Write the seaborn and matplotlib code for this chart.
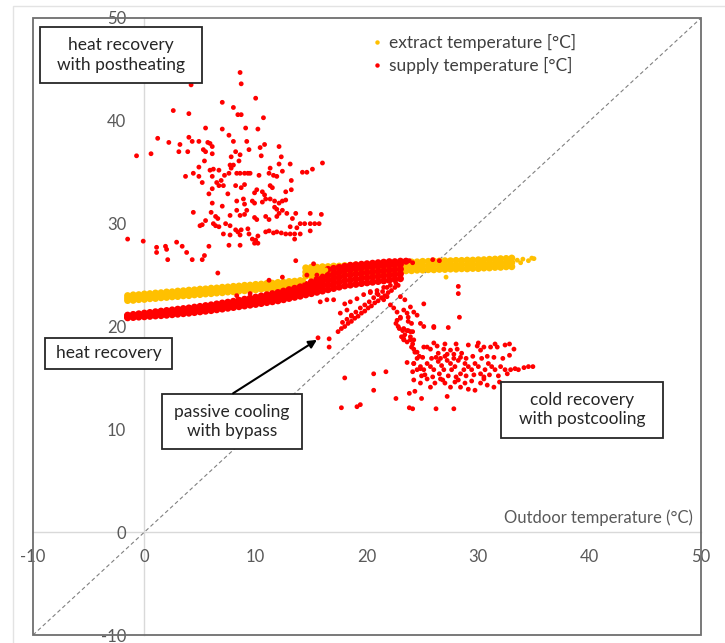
import matplotlib
matplotlib.use("Agg")
import matplotlib.pyplot as plt
from matplotlib.patches import Rectangle
from matplotlib.lines import Line2D
import seaborn as sns
import pandas as pd

# ---------------- data ----------------
series_names = ["extract temperature [°C]", "supply temperature [°C]"]
colors = {"extract temperature [°C]": "#FFC000", "supply temperature [°C]": "#FF0000"}
ticks = [-10, 0, 10, 20, 30, 40, 50]

# extract temperature, dense band (winter/spring part)
ext_lo_x = [-1.5, -1, -0.5, 0, 0.5, 1, 1.5, 2, 2.5, 3, 3.5, 4, 4.5, 5, 5.5, 6, 6.5, 7, 7.5, 8,
            8.5, 9, 9.5, 10, 10.5, 11, 11.5, 12, 12.5, 13, 13.5, 14]
ext_lo_r1 = [22.53, 22.55, 22.62, 22.64, 22.71, 22.73, 22.80, 22.83, 22.89, 22.92, 22.99, 23.01, 23.08, 23.11,
             23.17, 23.20, 23.26, 23.29, 23.36, 23.38, 23.45, 23.48, 23.54, 23.57, 23.64, 23.66, 23.73, 23.76,
             23.82, 23.85, 23.92, 23.94]
ext_lo_r2 = [22.76, 22.81, 22.85, 22.90, 22.95, 22.99, 23.04, 23.09, 23.13, 23.18, 23.23, 23.27, 23.32, 23.37,
             23.41, 23.46, 23.50, 23.55, 23.60, 23.64, 23.69, 23.74, 23.78, 23.83, 23.88, 23.92, 23.97, 24.02,
             24.06, 24.11, 24.16, 24.20]
ext_lo_r3 = [23.00, 23.07, 23.09, 23.16, 23.19, 23.25, 23.28, 23.35, 23.37, 23.44, 23.47, 23.53, 23.56, 23.63,
             23.65, 23.72, 23.74, 23.81, 23.84, 23.90, 23.93, 24.00, 24.02, 24.09, 24.12, 24.18, 24.21, 24.28,
             24.30, 24.37, 24.40, 24.46]

# extract temperature, dense band (summer part)
ext_hi_x = [14.5, 15, 15.5, 16, 16.5, 17, 17.5, 18, 18.5, 19, 19.5, 20, 20.5, 21, 21.5, 22, 22.5, 23, 23.5,
            24, 24.5, 25, 25.5, 26, 26.5, 27, 27.5, 28, 28.5, 29, 29.5, 30, 30.5, 31, 31.5, 32, 32.5, 33]
ext_hi_r1 = [24.92, 24.91, 24.97, 24.96, 25.02, 25.03, 25.08, 25.07, 25.13, 25.14, 25.18, 25.19, 25.24, 25.25,
             25.30, 25.31, 25.36, 25.37, 25.42, 25.43, 25.48, 25.49, 25.53, 25.52, 25.56, 25.55, 25.59, 25.58,
             25.62, 25.61, 25.65, 25.64, 25.69, 25.70, 25.75, 25.76, 25.81, 25.82]
ext_hi_r2 = [25.30, 25.33, 25.35, 25.38, 25.41, 25.44, 25.46, 25.49, 25.52, 25.55, 25.57, 25.60, 25.63, 25.66,
             25.69, 25.72, 25.75, 25.78, 25.81, 25.84, 25.87, 25.90, 25.92, 25.93, 25.95, 25.96, 25.98, 25.99,
             26.01, 26.02, 26.04, 26.05, 26.08, 26.11, 26.14, 26.17, 26.20, 26.23]
ext_hi_r3 = [25.70, 25.76, 25.76, 25.81, 25.82, 25.87, 25.87, 25.92, 25.93, 25.98, 25.98, 26.03, 26.04, 26.09,
             26.10, 26.15, 26.16, 26.21, 26.22, 26.27, 26.28, 26.33, 26.33, 26.36, 26.36, 26.39, 26.39, 26.42,
             26.42, 26.45, 26.45, 26.48, 26.49, 26.53, 26.55, 26.59, 26.61, 26.65]

# extract temperature, loose points
ext_pts_x = [33.5, 34.0, 34.5, 35.0, 33.8, 34.8, 27.1, 14.3, 14.8, 15.6, 16.3]
ext_pts_y = [26.45, 26.55, 26.40, 26.60, 26.20, 26.65, 24.80, 24.50, 25.60, 25.10, 25.50]

# supply temperature, dense band (heat recovery)
sup_band_x = [-1.5, -1, -0.5, 0, 0.5, 1, 1.5, 2, 2.5, 3, 3.5, 4, 4.5, 5, 5.5, 6, 6.5, 7, 7.5, 8, 8.5, 9,
              9.5, 10, 10.5, 11, 11.5, 12, 12.5, 13, 13.5, 14, 14.5, 15, 15.5, 16, 16.5, 17, 17.5, 18, 18.5,
              19, 19.5, 20, 20.5, 21, 21.5, 22, 22.5, 23]
sup_band_r1 = [20.85, 20.88, 20.92, 20.95, 20.99, 21.03, 21.06, 21.10, 21.15, 21.20, 21.25, 21.30, 21.36, 21.43,
               21.49, 21.55, 21.63, 21.70, 21.78, 21.85, 21.93, 22.00, 22.08, 22.15, 22.24, 22.33, 22.41, 22.50,
               22.61, 22.73, 22.84, 22.95, 23.08, 23.20, 23.33, 23.45, 23.58, 23.70, 23.83, 23.95, 24.03, 24.10,
               24.18, 24.25, 24.31, 24.38, 24.44, 24.50, 24.58, 24.65]
sup_band_r2 = [20.93, 20.98, 21.02, 21.07, 21.11, 21.16, 21.20, 21.25, 21.30, 21.36, 21.41, 21.47, 21.53, 21.60,
               21.67, 21.73, 21.82, 21.89, 21.97, 22.05, 22.14, 22.22, 22.30, 22.38, 22.48, 22.58, 22.67, 22.77,
               22.89, 23.01, 23.13, 23.25, 23.42, 23.58, 23.74, 23.90, 24.04, 24.18, 24.32, 24.45, 24.53, 24.60,
               24.68, 24.75, 24.81, 24.87, 24.93, 24.98, 25.05, 25.12]
sup_band_r3 = [21.02, 21.07, 21.13, 21.18, 21.24, 21.30, 21.35, 21.40, 21.46, 21.52, 21.58, 21.63, 21.71, 21.78,
               21.85, 21.92, 22.00, 22.09, 22.17, 22.25, 22.34, 22.43, 22.53, 22.62, 22.72, 22.83, 22.93, 23.03,
               23.16, 23.30, 23.42, 23.55, 23.75, 23.95, 24.15, 24.35, 24.50, 24.65, 24.80, 24.95, 25.03, 25.10,
               25.18, 25.25, 25.30, 25.36, 25.41, 25.47, 25.53, 25.58]
sup_band_r4 = [21.10, 21.17, 21.23, 21.30, 21.36, 21.43, 21.49, 21.55, 21.61, 21.68, 21.74, 21.80, 21.88, 21.95,
               22.03, 22.10, 22.19, 22.28, 22.36, 22.45, 22.55, 22.65, 22.75, 22.85, 22.96, 23.08, 23.19, 23.30,
               23.44, 23.58, 23.71, 23.85, 24.09, 24.33, 24.56, 24.80, 24.96, 25.13, 25.29, 25.45, 25.53, 25.60,
               25.68, 25.75, 25.80, 25.85, 25.90, 25.95, 26.00, 26.05]

# supply temperature, top streak over the extract band
sup_top_x = [16.5, 17, 17.5, 18, 18.5, 19, 19.5, 20, 20.5, 21, 21.5, 22, 22.5, 23, 23.5]
sup_top_y = [25.55, 25.65, 25.75, 25.85, 25.95, 26.00, 26.05, 26.10, 26.15, 26.20, 26.25, 26.30, 26.30, 26.35, 26.35]

# supply temperature, bypass lines (passive cooling)
sup_fan_x = [17.4, 17.7, 18.0, 18.3, 18.6, 18.9, 19.2, 19.5, 19.8, 20.1, 20.4, 20.7, 21.0, 21.3, 21.6, 21.9,
             22.2, 22.5, 22.8, 17.8, 18.2, 18.6, 19.0, 19.4, 19.8, 20.2, 20.6, 21.0, 21.4, 21.8,
             15.8, 16.4, 17.0, 18.0, 18.5, 19.1, 19.7, 20.3, 20.9, 21.5, 22.1, 22.6,
             17.6, 18.2, 18.6, 15.6, 16.6, 16.6]
sup_fan_y = [19.5, 19.8, 20.0, 20.3, 20.5, 20.8, 21.0, 21.3, 21.5, 21.8, 22.0, 22.3, 22.5, 22.8, 23.0, 23.3,
             23.5, 23.8, 24.0, 20.4, 20.7, 21.1, 21.4, 21.8, 22.1, 22.4, 22.8, 23.1, 23.4, 23.8,
             22.4, 22.6, 22.6, 22.2, 22.4, 22.7, 23.1, 23.3, 23.5, 23.8, 24.0, 24.2,
             21.3, 21.6, 21.0, 18.9, 18.8, 18.0]

# supply temperature, heat recovery with postheating (upper cloud)
heat_x = [8.6, 8.7, 4.2, 7.0, 10.0, 8.0, 2.6, 4.0, 8.4, 8.7, 10.7, 5.5, 7.0, 9.1, 10.2, 7.6, 1.2, 4.0, 4.3, 4.9,
          2.2, 3.2, 5.7, 5.9, 6.1, 8.0, 9.2, 10.8, 10.4, 12.1, 9.4, 5.3, 5.5, 3.1, 3.9, 8.2, 8.6, 6.1, 0.6, -0.7,
          10.5, 12.3, 7.8, 5.4, 8.5, 7.7, 8.0, 12.1, 13.1, 15.1, 16.0, 4.9, 6.2,
          3.7, 4.4, 4.9, 5.9, 6.1, 6.7, 7.2, 7.6, 7.8, 8.3, 8.6, 9.0, 9.3, 9.5, 10.3, 11.2, 11.6, 11.9, 12.4,
          11.3, 14.2, 14.6,
          5.2, 6.5, 6.9, 6.7, 7.1, 5.8, 6.1, 7.5, 8.2, 8.7, 9.0, 9.9, 10.1, 10.6, 10.8, 11.3, 11.5, 12.7, 13.2, 13.2,
          6.1, 7.0, 8.3, 8.9, 9.0, 9.7, 9.9, 10.6, 10.9, 11.3, 11.7, 12.1, 12.4, 12.7, 11.7, 11.9, 12.1, 12.4, 12.8,
          4.4, 6.0, 6.4, 6.6, 7.7, 8.3, 8.6, 9.0, 9.2, 9.9, 10.1, 10.9, 11.2, 11.9, 13.3, 13.6, 14.9, 15.9,
          5.0, 5.2, 5.5, 6.2, 6.4, 6.7, 7.3, 7.7, 8.2, 8.4, 8.7, 9.3,
          14.0, 14.4, 14.9, 15.3, 15.7, 13.7, 13.1, 14.9,
          10.9, 11.2, 11.6, 11.9, 12.3, 12.7, 13.1, 13.5, 14.0,
          7.1, 7.7, 8.6, 9.4, 9.7, 10.0, 10.2, 9.9, 10.2, 7.6, 8.6, 13.5,
          -1.5, -0.1, 1.1, 1.9, 2.0, 1.1, 2.1, 2.9, 3.4, 3.8, 4.3, 5.2, 5.4, 5.8, 6.6, 13.6,
          8.3, 9.5, 11.2, 12.4, 15.2, 14.6, 15.5]
heat_y = [44.7, 43.6, 43.5, 41.8, 42.2, 41.3, 41.0, 40.7, 40.6, 40.6, 40.3, 39.3, 39.2, 39.3, 39.2, 38.6, 38.3, 38.4,
          38.0, 38.0, 37.9, 37.7, 37.9, 37.8, 37.5, 38.0, 38.0, 37.7, 37.4, 37.5, 37.2, 37.2, 37.0, 37.0, 37.0, 37.0,
          36.7, 36.8, 36.8, 36.6, 36.6, 36.5, 36.5, 36.1, 36.1, 35.7, 35.7, 35.8, 35.8, 35.3, 35.9, 35.5, 35.3,
          34.6, 34.9, 34.6, 35.2, 34.6, 35.2, 34.7, 34.9, 35.4, 34.9, 34.9, 34.9, 34.9, 34.9, 34.7, 34.9, 34.7, 34.6,
          35.1, 35.4, 35.0, 35.0,
          34.0, 34.0, 34.2, 33.7, 33.7, 32.9, 33.4, 32.9, 33.7, 33.5, 33.8, 33.0, 33.3, 33.1, 32.8, 33.7, 33.5, 33.1,
          33.3, 34.2,
          32.0, 31.7, 32.2, 32.4, 31.9, 32.2, 32.0, 32.1, 32.4, 32.4, 32.2, 32.0, 32.2, 32.3, 31.6, 31.4, 31.0, 31.3,
          31.0,
          31.1, 31.1, 30.7, 30.5, 30.8, 31.3, 30.8, 30.9, 31.3, 30.6, 30.4, 30.7, 30.4, 30.7, 30.5, 31.0, 31.0, 30.9,
          29.8, 29.9, 30.3, 30.0, 29.8, 29.7, 30.0, 29.8, 29.4, 29.2, 29.4, 29.5,
          30.0, 30.0, 30.0, 30.0, 30.0, 29.6, 29.7, 29.3,
          29.2, 29.3, 29.1, 29.2, 29.1, 29.0, 29.0, 29.0, 29.0,
          29.0, 28.9, 28.9, 29.0, 28.5, 28.4, 28.8, 28.1, 28.1, 27.9, 27.9, 28.5,
          28.5, 28.3, 27.7, 27.8, 27.5, 27.2, 26.5, 28.2, 27.8, 27.2, 26.5, 26.5, 26.9, 27.8, 25.2, 26.4,
          23.0, 23.2, 24.5, 24.8, 26.1, 25.0, 25.0]

# supply temperature, cold recovery with postcooling (lower right cloud)
cold_x = [22.6, 22.9, 23.2, 23.4, 23.3, 23.7, 24.1, 25.1, 26.0, 27.3, 23.9, 24.1, 24.2, 24.5, 24.7,
          25.4, 25.7, 26.3, 26.4, 26.9, 27.2, 27.5, 27.8, 28.1, 28.5, 29.1, 29.9, 30.2, 30.5, 31.1, 31.7, 32.4,
          23.6, 24.2, 24.1, 24.5, 24.8, 25.1, 24.9, 25.4, 25.7, 26.0, 26.4, 26.7, 26.9, 27.2, 27.5, 27.6, 27.9,
          28.2, 28.4, 28.7, 28.8, 29.1, 29.4, 29.7, 30.0, 30.2, 30.6, 30.9, 31.2, 31.5, 32.0, 32.4, 32.9, 33.3,
          33.6, 34.1, 34.5, 34.9,
          24.2, 24.8, 25.4, 25.7, 26.1, 26.6, 27.0, 27.5, 27.9, 28.4, 28.8, 29.1, 29.7, 30.2, 30.8, 31.4,
          21.7, 22.6, 23.8, 24.3, 24.9, 27.2, 24.1, 26.2, 27.8, 20.6, 20.6, 19.4, 18.0, 17.7, 19.1, 23.8,
          25.0, 25.8, 26.2, 26.6, 27.0, 27.8, 28.4, 28.9, 29.5, 30.3, 30.8, 31.4, 32.2, 32.8,
          25.2, 25.9, 26.5, 27.3, 28.0, 28.9, 29.6, 30.5, 31.0, 31.8, 32.6, 26.8, 28.2, 29.4, 30.5, 31.9,
          26.0, 27.0, 28.0, 30.0, 31.5, 32.8, 33.2,
          20.3, 20.9, 21.5, 21.8, 22.1, 22.4, 22.7, 22.7, 23.0, 23.3, 23.6, 23.7, 24.0, 23.3, 23.6, 23.9,
          23.1, 23.3, 24.2, 24.0, 24.3, 24.5, 24.2, 24.8,
          23.0, 23.4, 23.9, 24.2, 24.5, 23.7, 25.1, 24.8, 23.0, 22.8, 23.9, 23.6, 26.0, 25.1,
          28.2, 28.2, 28.3, 25.9, 26.5, 23.8, 24.1]
cold_y = [20.3, 19.8, 19.6, 19.2, 18.8, 19.6, 19.5, 20.0, 19.9, 19.9, 18.7, 18.3, 17.8, 17.5, 17.1,
          18.0, 17.8, 18.1, 17.4, 17.8, 17.3, 17.7, 17.3, 17.8, 17.4, 18.2, 18.1, 17.7, 18.0, 18.0, 18.0, 18.2,
          16.5, 16.4, 15.6, 15.8, 16.1, 15.8, 15.2, 16.4, 16.1, 15.8, 16.6, 16.2, 15.8, 16.7, 16.4, 15.8, 16.1,
          16.7, 15.4, 15.8, 16.4, 16.1, 15.8, 16.4, 16.1, 15.4, 15.8, 16.4, 16.1, 15.8, 16.1, 15.8, 15.8, 15.9,
          15.8, 16.0, 16.1, 16.1,
          14.8, 14.5, 14.9, 14.1, 14.5, 14.9, 14.5, 14.1, 14.6, 14.1, 14.5, 13.9, 13.8, 14.5, 14.3, 14.1,
          15.6, 13.0, 13.5, 13.7, 13.0, 13.2, 12.0, 12.0, 12.0, 15.4, 13.8, 12.4, 15.0, 12.1, 12.2, 12.1,
          17.0, 16.9, 17.0, 16.9, 17.1, 16.9, 17.0, 16.9, 17.1, 16.9, 17.1, 17.0, 16.9, 17.2,
          15.3, 15.1, 15.4, 15.2, 15.1, 15.2, 15.3, 15.1, 15.3, 15.2, 15.4, 14.8, 14.8, 14.7, 14.9, 14.6,
          18.4, 18.3, 18.3, 18.4, 18.3, 18.3, 17.8,
          23.4, 23.2, 22.6, 22.9, 22.1, 21.8, 21.4, 20.6, 20.8, 21.6, 21.3, 20.5, 20.3, 19.8, 19.6, 19.5,
          19.0, 18.7, 18.7, 18.0, 17.5, 16.9, 16.4, 15.9,
          22.9, 22.6, 21.9, 21.4, 21.1, 20.9, 22.2, 20.3, 20.9, 20.0, 19.0, 18.5, 20.0, 18.0,
          23.9, 23.2, 20.9, 26.5, 26.4, 26.4, 26.2]

# ---------------- tables ----------------
EXT, SUP = series_names
band_df = pd.concat([
    pd.DataFrame({"x": ext_lo_x * 3, "y": ext_lo_r1 + ext_lo_r2 + ext_lo_r3, "series": EXT}),
    pd.DataFrame({"x": ext_hi_x * 3, "y": ext_hi_r1 + ext_hi_r2 + ext_hi_r3, "series": EXT}),
    pd.DataFrame({"x": sup_band_x * 4, "y": sup_band_r1 + sup_band_r2 + sup_band_r3 + sup_band_r4, "series": SUP}),
    pd.DataFrame({"x": sup_top_x, "y": sup_top_y, "series": SUP}),
], ignore_index=True)
pts_df = pd.concat([
    pd.DataFrame({"x": ext_pts_x, "y": ext_pts_y, "series": EXT}),
    pd.DataFrame({"x": sup_fan_x, "y": sup_fan_y, "series": SUP}),
    pd.DataFrame({"x": heat_x, "y": heat_y, "series": SUP}),
    pd.DataFrame({"x": cold_x, "y": cold_y, "series": SUP}),
], ignore_index=True)

# ---------------- figure ----------------
sns.set_theme(style="white")
plt.rcParams["font.family"] = ["Lato", "DejaVu Sans"]

W, H = 725, 643
fig = plt.figure(figsize=(W / 100, H / 100), dpi=100)
ax = fig.add_axes([33 / W, 1 - 635 / H, (701 - 33) / W, (635 - 18) / H])
ax.set_xlim(-10, 50)
ax.set_ylim(-10, 50)

# faint outer frame of the picture (top and left edges visible)
fig.patches.append(Rectangle((13 / W, -0.01), 1.0, 1 - 6 / H + 0.01, transform=fig.transFigure,
                             fill=False, ec="#e3e3e3", lw=1.0))

ax.axline((0, 0), slope=1, color="#808080", lw=0.8, ls=(0, (3.5, 2.5)), zorder=1)

sns.scatterplot(data=band_df, x="x", y="y", hue="series", palette=colors, s=26, linewidth=0,
                legend=False, ax=ax, zorder=3)
sns.scatterplot(data=pts_df, x="x", y="y", hue="series", palette=colors, s=12, linewidth=0,
                legend=False, ax=ax, zorder=4)

# axes through the origin
for side in ["top", "right"]:
    ax.spines[side].set_visible(False)
for side in ["left", "bottom"]:
    ax.spines[side].set_position(("data", 0))
    ax.spines[side].set_color("#d9d9d9")
    ax.spines[side].set_linewidth(1.0)
    ax.spines[side].set_zorder(0.5)
ax.set_xticks(ticks)
ax.set_yticks(ticks)
ax.set_xticklabels([str(t) for t in ticks])
ax.set_yticklabels([str(t) for t in ticks])
ax.tick_params(axis="both", direction="out", length=5, width=1, color="#bfbfbf",
               labelcolor="#595959", labelsize=12)
ax.tick_params(axis="x", pad=7)
ax.tick_params(axis="y", pad=8)
ax.set_xlabel("")
ax.set_ylabel("")

# plot-area frame
ax.add_patch(Rectangle((0, 0), 1, 1, transform=ax.transAxes, fill=False, ec="#6e6e6e", lw=1.3,
                       clip_on=False, zorder=2))

ax.text(49.3, 1.4, "Outdoor temperature (°C)", ha="right", va="center", fontsize=12, color="#595959")

# annotation boxes
boxes = [
    ((-9.37, 43.7), 14.55, 5.42, "heat recovery\nwith postheating"),
    ((-8.92, 15.87), 11.41, 3.02, "heat recovery"),
    ((1.56, 8.06), 12.58, 5.38, "passive cooling\nwith bypass"),
    ((32.04, 9.19), 14.58, 5.42, "cold recovery\nwith postcooling"),
]
for (x0, y0), w, h, txt in boxes:
    ax.add_patch(Rectangle((x0, y0), w, h, fc="white", ec="#262626", lw=1.3, zorder=6))
    ax.text(x0 + w / 2, y0 + h / 2, txt, ha="center", va="center", fontsize=12.5, color="#262626",
            linespacing=1.25, zorder=7)

ax.annotate("", xy=(15.5, 18.7), xytext=(7.97, 13.5),
            arrowprops=dict(arrowstyle="-|>", color="black", lw=1.5, mutation_scale=12,
                            shrinkA=0, shrinkB=0), zorder=8)

handles = [Line2D([], [], ls="", marker="o", ms=3.2, mfc=colors[n], mec="none", label=n)
           for n in series_names]
leg = ax.legend(handles=handles, loc="upper left", bbox_to_anchor=(0.497, 0.986), frameon=False,
                fontsize=12.5, handlelength=0.6, handletextpad=0.37, labelspacing=0.35, borderaxespad=0)
for t in leg.get_texts():
    t.set_color("#404040")

fig.savefig("out.png", dpi=100)
